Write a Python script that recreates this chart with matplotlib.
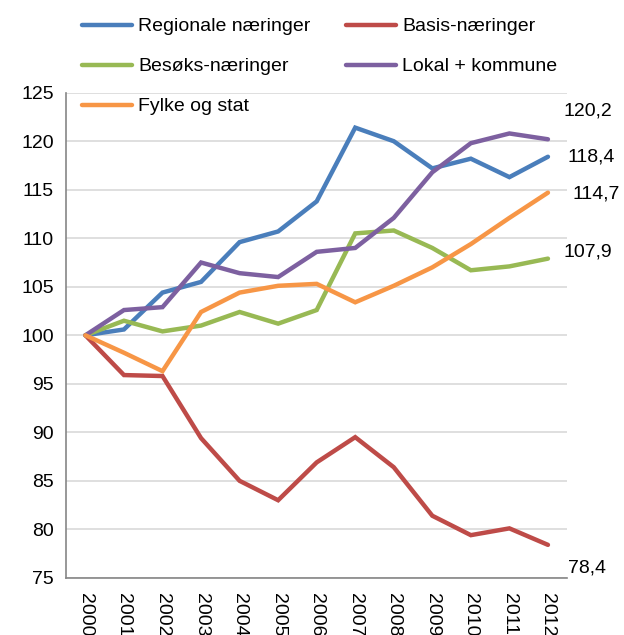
import matplotlib.pyplot as plt

plt.rcParams['font.family'] = ['Liberation Sans', 'DejaVu Sans']

years = [str(y) for y in range(2000, 2013)]

regionale = [100, 100.6, 104.4, 105.5, 109.6, 110.7, 113.8, 121.4, 120.0, 117.2, 118.2, 116.3, 118.4]
basis = [100, 95.9, 95.8, 89.4, 85.0, 83.0, 86.9, 89.5, 86.4, 81.4, 79.4, 80.1, 78.4]
besoks = [100, 101.5, 100.4, 101.0, 102.4, 101.2, 102.6, 110.5, 110.8, 109.0, 106.7, 107.1, 107.9]
lokal = [100, 102.6, 102.9, 107.5, 106.4, 106.0, 108.6, 109.0, 112.1, 116.8, 119.8, 120.8, 120.2]
fylke = [100, 98.2, 96.3, 102.4, 104.4, 105.1, 105.3, 103.4, 105.1, 107.0, 109.4, 112.1, 114.7]

names = ["Regionale næringer", "Basis-næringer", "Besøks-næringer", "Lokal + kommune", "Fylke og stat"]
colors = ["#4a7ebb", "#be4b48", "#98b954", "#7d60a0", "#f79646"]

fig = plt.figure(figsize=(6.24, 6.35), dpi=100)
ax = fig.add_axes([0.106, 0.09, 0.803, 0.764])

x = list(range(len(years)))
lines = []
for series, name, c in zip([regionale, basis, besoks, lokal, fylke], names, colors):
    ln, = ax.plot(x, series, color=c, lw=3.2, label=name, solid_capstyle='round', solid_joinstyle='miter')
    lines.append(ln)

ax.set_xlim(-0.5, 12.5)
ax.set_ylim(75, 125)
ax.set_yticks(range(75, 126, 5))
ax.set_xticks(x)
ax.set_xticklabels(years, rotation=-90, fontsize=14)
ax.tick_params(axis='y', labelsize=14, length=0, pad=9)
ax.tick_params(axis='x', length=0, pad=11)
ax.grid(axis='y', color='#d9d9d9', lw=1.2)
ax.set_axisbelow(True)
for s in ['top', 'right']:
    ax.spines[s].set_visible(False)
for s in ['left', 'bottom']:
    ax.spines[s].set_color('#868686')
    ax.spines[s].set_linewidth(1.2)

# end value labels (positions of the text boxes)
label_pos = [(12.4, 123.1, lokal[-1]), (12.5, 118.35, regionale[-1]),
             (12.63, 114.6, fylke[-1]), (12.4, 108.6, besoks[-1]),
             (12.53, 76.0, basis[-1])]
for lx, ly, v in label_pos:
    ax.text(lx, ly, f"{v:.1f}".replace('.', ','), fontsize=14, va='center', ha='left', clip_on=False)

order = [0, 2, 4, 1, 3]
fig.legend([lines[i] for i in order], [names[i] for i in order], ncol=2, frameon=False,
           loc='upper left', bbox_to_anchor=(0.131, 0.972), fontsize=14,
           handlelength=2.6, handletextpad=0.3, columnspacing=1.8, labelspacing=1.15,
           borderpad=0, borderaxespad=0)

fig.savefig('out.png', dpi=100)
